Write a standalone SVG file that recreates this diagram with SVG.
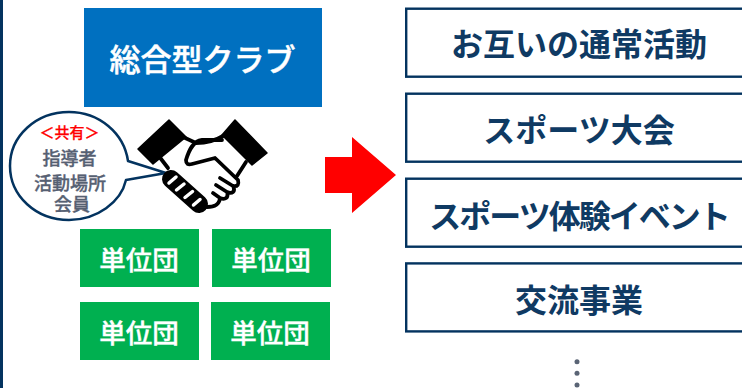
<svg xmlns="http://www.w3.org/2000/svg" width="742" height="388" viewBox="0 0 742 388">
<style>
text{font-family:"Noto Sans CJK JP","Noto Sans",sans-serif;text-anchor:middle}
.g{fill:#00b050}
.gt{fill:#fff;stroke:#fff;stroke-width:.4;font-size:26.500px;font-weight:500}
.b{fill:#fff;stroke:#03335f;stroke-width:2.400}
.bt{fill:#0f3a63;font-size:32px;font-weight:700}
.ct{fill:#566072;stroke:#566072;stroke-width:.35;font-size:18px;font-weight:500}
.hl{fill:none;stroke:#000;stroke-width:3.800;stroke-linecap:round;stroke-linejoin:round}
.sl{fill:none;stroke:#fff;stroke-width:3.500;stroke-linecap:round}
</style>
<rect width="742" height="388" fill="#fff"/>
<rect x="0" y="0" width="3" height="388" fill="#03335f"/>
<g id="club"><rect x="84" y="8" width="238" height="99" fill="#0070c0"/><text x="202.500" y="71" fill="#fff" stroke="#fff" stroke-width=".5" font-size="31" font-weight="500">総合型クラブ</text></g>
<g id="bubble"><path d="M128 161C124 133 99 112 69 112C36 112 10 136 10 166C10 196 36 220 69 220C97 220 121 202 126 180L166 173Z" fill="#fff" stroke="#03335f" stroke-width="2.500" stroke-linejoin="round"/>
<text x="69.500" y="137.500" fill="#f00" stroke="#f00" stroke-width=".25" font-size="15" font-weight="500">＜共有＞</text>
<text x="69.500" y="164.500" class="ct">指導者</text><text x="70" y="189.500" class="ct">活動場所</text><text x="72" y="210.500" class="ct">会員</text></g>
<g id="handshake">
<path d="M138 149L169 120L186 137L153 164ZM235 120L267 153L252 165L222 135Z" fill="#000" stroke="#000" stroke-width="1.500" stroke-linejoin="round"/>
<path class="hl" d="M183 137L196 143C205 143 215 141 225 135M222 140H202C193 141 189 150 186 160C186 164 188 165 192 164L215 158L238 180C239 184 238 187 233 186L220 178M233 186C236 192 232 194 227 192L216 185M227 192C229 198 225 200 220 198L213 193M220 198C219 206 213 207 207 207L202 204M246 162L237 176M158 155L168 168"/>
<path d="M171 179L199 204" fill="none" stroke="#000" stroke-width="18" stroke-linecap="round"/>
<path class="sl" d="M169 183L176 177M176.500 190L184 184M185 197.500L192.500 191.500M193.500 205L200 199.500"/>
</g>
<g id="u1"><rect class="g" x="80" y="229" width="119" height="58"/><text class="gt" x="139" y="270">単位団</text></g>
<g id="u2"><rect class="g" x="212" y="229" width="119" height="58"/><text class="gt" x="271" y="270">単位団</text></g>
<g id="u3"><rect class="g" x="80" y="302" width="119" height="58"/><text class="gt" x="139" y="343">単位団</text></g>
<g id="u4"><rect class="g" x="211" y="302" width="119" height="58"/><text class="gt" x="270" y="343">単位団</text></g>
<g id="connectors"><path id="arrow" d="M325 157H352V137L396 175L352 213V193H325Z" fill="#f00"/></g>
<g id="a1"><rect class="b" x="406.200" y="8.700" width="340" height="68"/><text class="bt" x="579" y="56">お互いの通常活動</text></g>
<g id="a2"><rect class="b" x="406.200" y="93.700" width="340" height="68"/><text class="bt" x="579" y="142">スポーツ大会</text></g>
<g id="a3"><rect class="b" x="406.200" y="178.700" width="340" height="68"/><text class="bt" x="579" y="228" letter-spacing="-2">スポーツ体験イベント</text></g>
<g id="a4"><rect class="b" x="406.200" y="263.400" width="340" height="68"/><text class="bt" x="579" y="312">交流事業</text></g>
<g id="dots" fill="#5a6475"><circle cx="577" cy="361.700" r="2.500"/><circle cx="577" cy="373.300" r="2.500"/><circle cx="577" cy="385" r="2.500"/></g>
</svg>
